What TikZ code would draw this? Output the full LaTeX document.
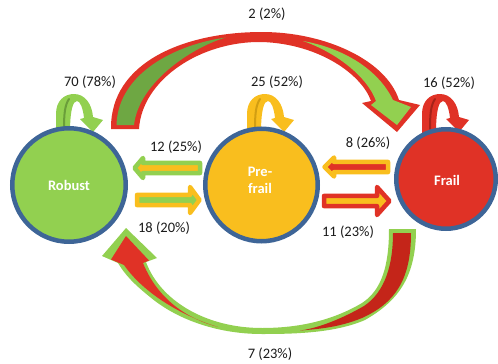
\documentclass[tikz,border=0pt]{standalone}
\usepackage{fontspec}
\setmainfont{Carlito}
\definecolor{gr}{HTML}{92D050}
\definecolor{dgr}{HTML}{6EA743}
\definecolor{og}{HTML}{F9BE1E}
\definecolor{rd}{HTML}{E03226}
\definecolor{drd}{HTML}{C42519}
\definecolor{rim}{HTML}{3E6597}
\definecolor{txt}{HTML}{1A1A1A}
\definecolor{gstripe}{HTML}{6A9E3A}
\definecolor{ostripe}{HTML}{D29E12}
\definecolor{rstripe}{HTML}{A62219}
% small curved self-transition arrow sitting on top of a state
\newcommand{\selfloop}[3]{%
  \fill[#2] ({#1},133) -- ({#1},114) .. controls ({#1},101) and ({#1+8},94) .. ({#1+18},94)
    .. controls ({#1+29},94) and ({#1+36},104) .. ({#1+37},117) -- ({#1+47},120) -- ({#1+37},132)
    -- ({#1+24},119) -- ({#1+28},118) .. controls ({#1+27},108) and ({#1+24},101) .. ({#1+21},101)
    .. controls ({#1+17},101) and ({#1+14},110) .. ({#1+14},133) -- cycle;
  \draw[#3, line width=2pt, line cap=round] ({#1+8},129) .. controls ({#1+8},113) and ({#1+9},105) .. ({#1+13},99);
}
\begin{document}
\begin{tikzpicture}[x=1pt,y=-1pt,
  lbl/.style={font=\fontsize{14.5}{17}\selectfont, text=txt, inner sep=0pt},
  state/.style={circle, draw=rim, line width=4.5pt, inner sep=0pt},
  statetext/.style={font=\bfseries\fontsize{14.5}{17}\selectfont, text=white, align=center, inner sep=0pt},
  blockarr/.style={line width=4.5pt, line join=round}]
\useasboundingbox (0,0) rectangle (498,364);

% Robust -> Frail (over the top)
\fill[rd] (111,129) .. controls (110,62) and (185,32) .. (262,32)
  .. controls (325,32) and (386,60) .. (399,100) -- (420,105) -- (397,132) -- (362,103) -- (371,101)
  .. controls (362,75) and (320,44) .. (262,42) .. controls (200,41) and (142,80) .. (139,129) -- cycle;
\fill[dgr] (116.5,125) .. controls (118,72) and (178,44) .. (226,37.5)
  .. controls (195,46) and (139,81) .. (134,125) -- cycle;
\fill[gr] (303,41) .. controls (343,48) and (378,69) .. (393,100) -- (411,107) -- (397,125) -- (371,105) -- (376,101)
  .. controls (367,76) and (335,52) .. (303,41) -- cycle;

% Frail -> Robust (under the bottom)
\fill[gr] (416,229) .. controls (416,275) and (400,300) .. (365,320)
  .. controls (335,333) and (295,334) .. (262,334)
  .. controls (215,334) and (175,318) .. (150,297)
  .. controls (135,285) and (125,275) .. (118,263) -- (102,256) -- (126,228) -- (157,258) -- (146,262)
  .. controls (160,300) and (205,328) .. (262,328)
  .. controls (295,328) and (330,322) .. (362,303)
  .. controls (382,290) and (389,265) .. (389,229) -- cycle;
\fill[drd] (411,233) .. controls (411,280) and (395,303) .. (362,318)
  .. controls (340,327) and (320,329) .. (300,330.5)
  .. controls (320,328) and (345,317) .. (364,306)
  .. controls (385,292) and (393,265) .. (393,233) -- cycle;
\fill[rd] (218,327) .. controls (185,317) and (145,295) .. (124,265) -- (111,259.5) -- (126,236) -- (149,260.5) -- (143,263)
  .. controls (158,300) and (188,319) .. (218,327) -- cycle;

% self transitions
\selfloop{56}{gr}{gstripe}
\selfloop{247}{og}{ostripe}
\selfloop{422}{rd}{rstripe}

% states
\node[state, fill=gr, minimum size=113.5pt] (robust) at (69,185) {};
\node[state, fill=og, minimum size=112.5pt] (prefrail) at (261.5,185) {};
\node[state, fill=rd, minimum size=99.5pt] (frail) at (446,179) {};
\node[statetext] (robusttxt) at (69,185) {Robust};
\node[statetext] (prefrailtxt) at (260,180) {Pre-\\frail};
\node[statetext] (frailtxt) at (447,180) {Frail};

% straight transitions
\filldraw[blockarr, draw=gr, fill=og] (134.5,168) -- (143,158) -- (143,162.9) -- (200,162.9) -- (200,173.1) -- (143,173.1) -- (143,178) -- cycle;
\filldraw[blockarr, draw=og, fill=gr] (199.5,200) -- (190,213) -- (190,205.1) -- (137,205.1) -- (137,194.9) -- (190,194.9) -- (190,187) -- cycle;
\filldraw[blockarr, draw=og, fill=rd] (324.5,167) -- (334,157.5) -- (334,161.9) -- (388,161.9) -- (388,172.1) -- (334,172.1) -- (334,176.5) -- cycle;
\filldraw[blockarr, draw=rd, fill=og] (389.5,201) -- (377,215) -- (377,206.1) -- (324,206.1) -- (324,195.9) -- (377,195.9) -- (377,187) -- cycle;

% counts
\node[lbl] (l70) at (90,82) {70 (78\%)};
\node[lbl] (l2) at (267,14) {2 (2\%)};
\node[lbl] (l25) at (277,82) {25 (52\%)};
\node[lbl] (l16) at (449,83) {16 (52\%)};
\node[lbl] (l12) at (176,147) {12 (25\%)};
\node[lbl] (l8) at (368,143) {8 (26\%)};
\node[lbl] (l18) at (164,228) {18 (20\%)};
\node[lbl] (l11) at (348,232) {11 (23\%)};
\node[lbl] (l7) at (270,354) {7 (23\%)};
\end{tikzpicture}
\end{document}
